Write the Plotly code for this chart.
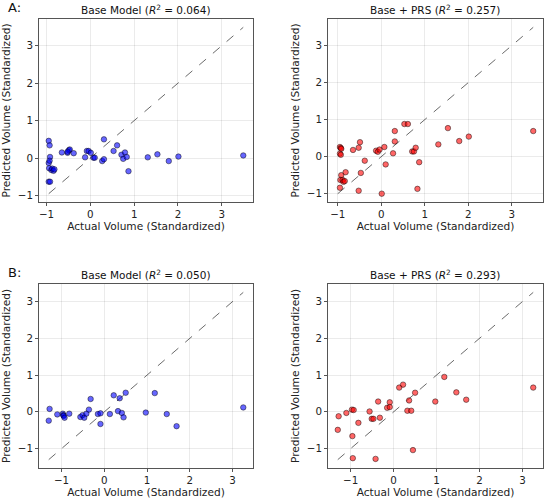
import plotly.graph_objects as go

# ---- data ----
actual_A = [-0.95, -0.93, -0.92, -0.95, -0.93, -0.95, -0.92, -0.94, -0.89, -0.87, -0.84, -0.82,
            -0.65, -0.52, -0.49, -0.47, -0.52, -0.38,
            -0.12, -0.08, -0.04, 0.01, 0.07, 0.10,
            0.27, 0.31, 0.31,
            0.53, 0.61,
            0.71, 0.75, 0.79, 0.83, 0.87,
            1.31, 1.53, 1.79, 2.01, 3.49]
pred_base_A = [0.46, 0.34, 0.03, -0.13, -0.07, -0.63, -0.63, -0.27, -0.32, -0.28, -0.34, -0.30,
               0.15, 0.14, 0.21, 0.23, 0.17, 0.13,
               0.02, 0.19, 0.19, 0.14, 0.01, 0.01,
               -0.08, -0.03, 0.50,
               0.19, 0.34,
               0.09, -0.02, 0.15, 0.03, -0.35,
               0.02, 0.10, -0.08, 0.04, 0.07]
pred_prs_A = [0.26, 0.23, 0.21, 0.08, 0.05, -0.84, -0.50, -0.63, -0.63, -0.68, -0.66, -0.42,
              0.18, 0.24, 0.39, -0.44, -0.92, -0.11,
              0.16, 0.13, 0.19, -1.00, 0.26, -0.21,
              0.09, 0.41, 0.69,
              0.88, 0.88,
              0.14, 0.14, 0.24, -0.87, -0.15,
              0.33, 0.77, 0.42, 0.54, 0.69]

actual_B = [-1.30, -1.28, -1.10, -0.97, -0.96, -0.95, -0.93, -0.82, -0.56, -0.51, -0.47, -0.42,
            -0.36, -0.32, -0.15, -0.09, -0.09, 0.13, 0.22, 0.32, 0.36, 0.41, 0.45, 0.50,
            0.97, 1.18, 1.46, 1.69, 3.25]
pred_base_B = [-0.24, 0.08, -0.07, -0.05, -0.09, -0.11, -0.16, -0.05, -0.14, -0.09, -0.16, -0.05,
               0.06, 0.35, -0.06, -0.04, -0.33, -0.06, 0.45, 0.02, 0.37, -0.03, -0.15, 0.52,
               -0.02, 0.51, -0.06, -0.39, 0.12]
pred_prs_B = [-0.49, -0.12, -0.03, 0.06, -0.66, -1.26, 0.05, -0.30, 0.01, -0.19, -0.19, -1.28,
              0.28, -0.16, 0.11, 0.26, 0.13, 0.66, 0.74, 0.03, 0.31, 0.03, -1.04, 0.52,
              0.28, 0.95, 0.53, 0.33, 0.66]

titles = ["Base Model (<i>R</i><sup>2</sup> = 0.064)",
          "Base + PRS (<i>R</i><sup>2</sup> = 0.257)",
          "Base Model (<i>R</i><sup>2</sup> = 0.050)",
          "Base + PRS (<i>R</i><sup>2</sup> = 0.293)"]
panel_labels = ["A:", "B:"]
x_label = "Actual Volume (Standardized)"
y_label = "Predicted Volume (Standardized)"

panels = [
    (actual_A, pred_base_A, "rgba(0,0,255,0.6)"),
    (actual_A, pred_prs_A, "rgba(255,0,0,0.6)"),
    (actual_B, pred_base_B, "rgba(0,0,255,0.6)"),
    (actual_B, pred_prs_B, "rgba(255,0,0,0.6)"),
]

W, H = 550, 499
xdoms = [(39 / W, 253 / W), (328 / W, 543 / W)]
ydoms = [(1 - 202 / H, 1 - 19 / H), (1 - 468 / H, 1 - 284 / H)]

FONT = "DejaVu Sans"
fig = go.Figure()
layout = dict(width=W, height=H, margin=dict(l=0, r=0, t=0, b=0, autoexpand=False),
              paper_bgcolor="white", plot_bgcolor="white", showlegend=False,
              font=dict(family=FONT, size=10, color="#222"))
annotations = []

for i, (xa, ya, col) in enumerate(panels):
    r, c = divmod(i, 2)
    idx = "" if i == 0 else str(i + 1)
    lo = min(min(xa), min(ya))
    hi = max(max(xa), max(ya))
    pad = (hi - lo) * 0.05
    rng = [lo - pad, hi + pad]
    fig.add_trace(go.Scatter(x=[lo, hi], y=[lo, hi], mode="lines",
                             line=dict(color="rgba(80,80,80,0.85)", width=1, dash="dash"),
                             xaxis="x" + idx, yaxis="y" + idx, hoverinfo="skip"))
    fig.add_trace(go.Scatter(x=xa, y=ya, mode="markers",
                             marker=dict(color=col, size=5.5,
                                         line=dict(color="rgba(0,0,0,0.75)", width=0.6)),
                             xaxis="x" + idx, yaxis="y" + idx))
    axcommon = dict(range=rng, showgrid=True, gridcolor="rgba(0,0,0,0.08)", gridwidth=1,
                    zeroline=False, showline=True, linecolor="#555", linewidth=1, mirror=True,
                    ticks="outside", ticklen=3, tickcolor="#555", dtick=1, automargin=False,
                    tickfont=dict(family=FONT, size=10.3, color="#222"))
    layout["xaxis" + idx] = dict(axcommon, domain=list(xdoms[c]), anchor="y" + idx,
                                 title=dict(text=x_label, standoff=3,
                                            font=dict(family=FONT, size=10.6, color="#222")))
    layout["yaxis" + idx] = dict(axcommon, domain=list(ydoms[r]), anchor="x" + idx,
                                 title=dict(text=y_label, standoff=5,
                                            font=dict(family=FONT, size=10.6, color="#222")))
    annotations.append(dict(text=titles[i], x=sum(xdoms[c]) / 2, y=ydoms[r][1],
                            xref="paper", yref="paper", xanchor="center", yanchor="bottom",
                            yshift=1, showarrow=False,
                            font=dict(family=FONT, size=10.5, color="#111")))

for r, lab in enumerate(panel_labels):
    annotations.append(dict(text=lab, x=6 / W, y=ydoms[r][1], xref="paper", yref="paper",
                            xanchor="left", yanchor="bottom", yshift=2, showarrow=False,
                            font=dict(family=FONT, size=13, color="#111")))

layout["annotations"] = annotations
fig.update_layout(**layout)
fig.write_html("out.html", config={"displayModeBar": False},
               post_script="document.body.style.margin='0';document.body.style.overflow='hidden';")
